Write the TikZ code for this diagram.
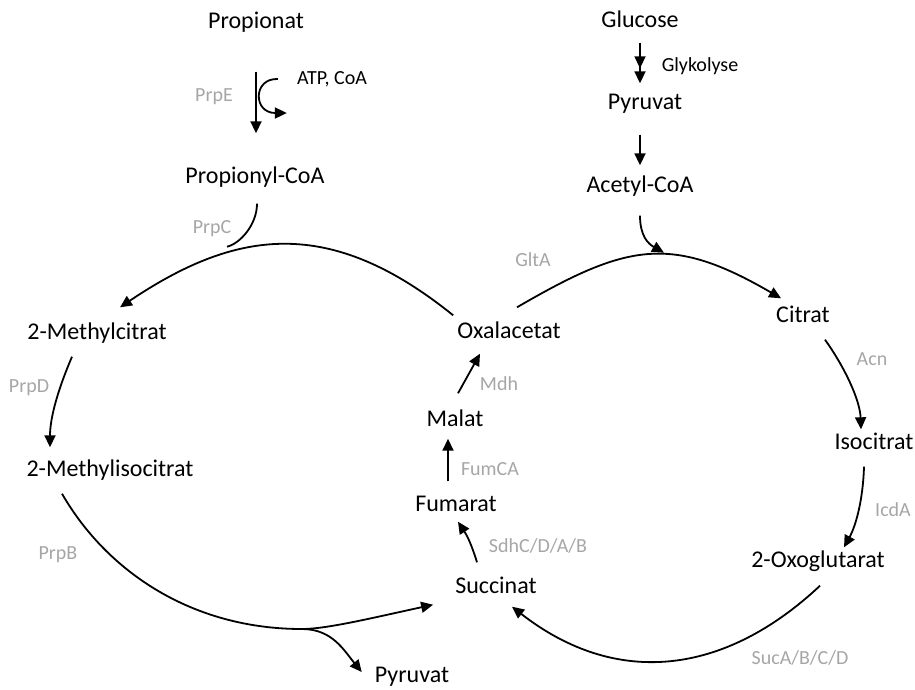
\documentclass[tikz,border=0pt]{standalone}
\usepackage{fontspec}
\setmainfont{Carlito}
\usetikzlibrary{arrows.meta}
\definecolor{enzgray}{RGB}{166,166,166}
\tikzset{
  metab/.style={inner sep=1pt, text height=17pt, text depth=4pt, font=\fontsize{24}{28}\selectfont},
  enz/.style={inner sep=1pt, text height=14pt, text depth=4pt, font=\fontsize{20}{24}\selectfont, text=enzgray},
  cofac/.style={enz, text=black},
  arr/.style={line width=1.8pt, -{Triangle[length=12pt,width=11pt]}},
  flow/.style={line width=1.8pt},
}
\begin{document}
\begin{tikzpicture}[x=1pt,y=1pt]
\useasboundingbox (0,0) rectangle (915,-689);

% left side: propionate into the methylcitrate cycle
\node[metab] (propionat) at (256,-22) {Propionat};
\node[cofac] (atp) at (332,-79) {ATP, CoA};
\node[enz] (prpe) at (214,-96) {PrpE};
\node[metab] (propcoa) at (255,-177) {Propionyl-CoA};
\node[enz] (prpc) at (212,-228) {PrpC};
\node[metab] (mcitrat) at (97,-333) {2-Methylcitrat};
\node[enz] (prpd) at (29,-387) {PrpD};
\node[metab] (misocitrat) at (110,-470) {2-Methylisocitrat};
\node[enz] (prpb) at (58,-554) {PrpB};
\node[metab] (pyrbot) at (412,-676) {Pyruvat};
\coordinate (split) at (302,-629);

% right side: glucose into the citrate cycle
\node[metab] (glucose) at (640,-21) {Glucose};
\node[cofac] (glyk) at (700,-66) {Glykolyse};
\node[metab] (pyrtop) at (645,-103) {Pyruvat};
\node[metab] (acetyl) at (640,-186) {Acetyl-CoA};
\node[enz] (glta) at (533,-261) {GltA};
\node[metab] (citrat) at (803,-316) {Citrat};
\node[enz] (acn) at (872,-360) {Acn};
\node[metab] (isocitrat) at (874,-443) {Isocitrat};
\node[enz] (icda) at (893,-511) {IcdA};
\node[metab] (oxoglu) at (818,-561) {2-Oxoglutarat};
\node[enz] (suc) at (800,-659) {SucA/B/C/D};

% middle column shared by both cycles
\node[metab] (oxal) at (509,-332) {Oxalacetat};
\node[enz] (mdh) at (499,-385) {Mdh};
\node[metab] (malat) at (455,-420) {Malat};
\node[enz] (fumca) at (490,-470) {FumCA};
\node[metab] (fumarat) at (456,-505) {Fumarat};
\node[enz] (sdh) at (538,-547) {SdhC/D/A/B};
\node[metab] (succinat) at (496,-587) {Succinat};

% activation of propionate
\draw[arr, shorten <=38pt, shorten >=32pt] (propionat.south) -- (propionat.south |- propcoa.north);
\draw[arr] ([xshift=-18pt]atp.west) .. controls +(-25,1) and +(-34,0) .. +(9,-34);

% methylcitrate cycle
\draw[flow] ([xshift=2pt,yshift=-15pt]propcoa.south) .. controls +(0,-21) and +(13,3) .. +(-30,-43);
\draw[arr] ([shift={(-3,5)}]oxal.north west) .. controls +(-124,100) and +(116,78) .. ([shift={(23,14)}]mcitrat.north);
\draw[arr] ([xshift=-25pt,yshift=-12pt]mcitrat.south) .. controls +(-12,-28) and +(0,32) .. ([xshift=-60pt,yshift=11pt]misocitrat.north);
\draw[flow] ([xshift=-48pt,yshift=-12pt]misocitrat.south) .. controls +(45,-78) and +(-110,0) .. (split);
\draw[arr] (split) .. controls +(25,0) and +(-60,-13) .. ([shift={(-21,-6)}]succinat.south west);
\draw[arr] (split) .. controls +(30,0) and +(-18,22) .. ([shift={(-12,4)}]pyrbot.west);

% glycolysis and pyruvate oxidation
\draw[flow, -{Triangle[length=12pt,width=11pt,sep=3pt]Triangle[length=12pt,width=11pt]}, shorten <=10pt, shorten >=8pt] (glucose.south) -- (glucose.south |- pyrtop.north);
\draw[arr, shorten <=20pt, shorten >=9pt] (acetyl.north |- pyrtop.south) -- (acetyl.north);
\draw[arr] ([yshift=-18pt]acetyl.south) .. controls +(0,-20) and +(-16,9) .. +(24,-37);

% citrate cycle
\draw[arr] ([shift={(8,13)}]oxal.north) .. controls +(110,64) and +(-110,64) .. ([shift={(6,6)}]citrat.north west);
\draw[arr] ([xshift=22pt,yshift=-12pt]citrat.south) .. controls +(20,-28) and +(-1,29) .. ([xshift=-13pt,yshift=2pt]isocitrat.north);
\draw[arr] ([xshift=-10pt,yshift=-12pt]isocitrat.south) .. controls +(-1,-33) and +(12,22) .. ([xshift=26pt,yshift=2pt]oxoglu.north);
\draw[arr] ([xshift=2pt,yshift=-13pt]oxoglu.south) .. controls +(-96,-90) and +(104,-81) .. ([shift={(16,-8)}]succinat.south);
\draw[arr] ([xshift=-19pt,yshift=13pt]succinat.north) to[bend right=8] ([xshift=2pt,yshift=-5pt]fumarat.south);
\draw[arr] ([xshift=-8pt,yshift=12pt]fumarat.north) -- ([xshift=-7pt,yshift=-7pt]malat.south);
\draw[arr] ([xshift=3pt,yshift=15pt]malat.north) -- ([xshift=-29pt,yshift=-10pt]oxal.south);
\end{tikzpicture}
\end{document}
